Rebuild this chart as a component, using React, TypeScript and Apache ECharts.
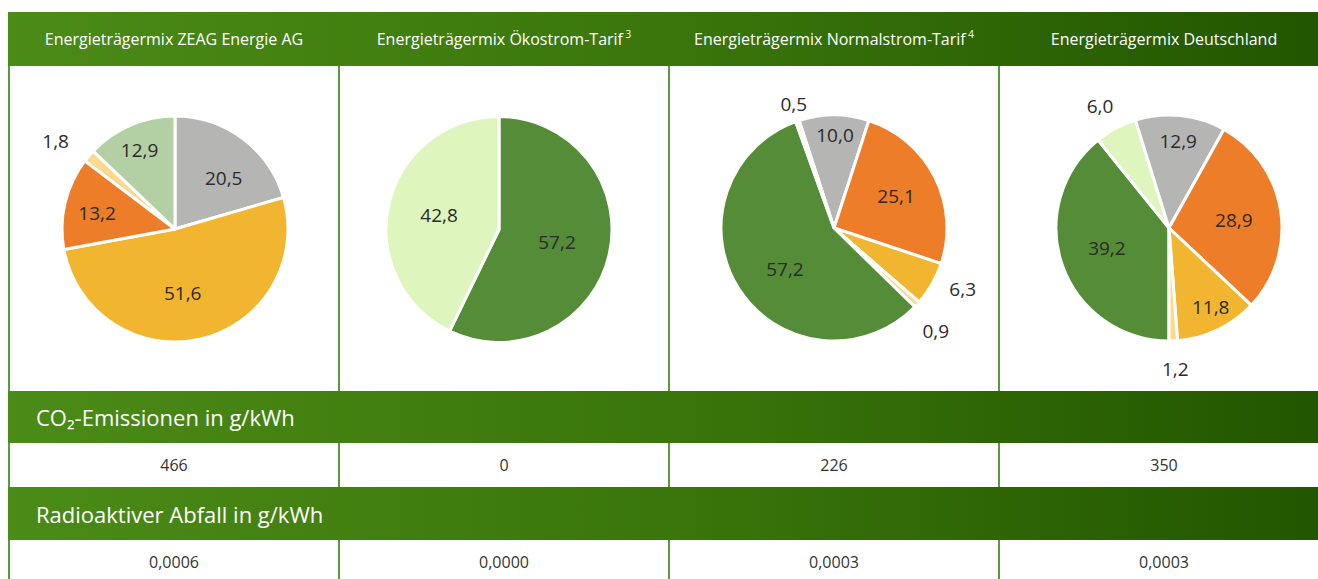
import React, { useEffect, useRef } from "react";
import * as echarts from "echarts";

// ---------- data ----------
const columnTitles = [
  "Energieträgermix ZEAG Energie AG",
  "Energieträgermix Ökostrom-Tarif",
  "Energieträgermix Normalstrom-Tarif",
  "Energieträgermix Deutschland",
];
const titleNotes = ["", "3", "4", ""];

const zeagNames = ["Kernkraft", "Erdgas", "Kohle", "Sonstige fossile Energieträger", "Erneuerbare Energien"];
const zeagValues = [20.5, 51.6, 13.2, 1.8, 12.9];

const oekoNames = ["Erneuerbare Energien, finanziert aus der EEG-Umlage", "Sonstige erneuerbare Energien"];
const oekoValues = [57.2, 42.8];

const normalNames = [
  "Kernkraft",
  "Kohle",
  "Erdgas",
  "Sonstige fossile Energieträger",
  "Erneuerbare Energien, finanziert aus der EEG-Umlage",
  "Sonstige erneuerbare Energien",
];
const normalValues = [10.0, 25.1, 6.3, 0.9, 57.2, 0.5];

const deNames = [
  "Erneuerbare Energien, finanziert aus der EEG-Umlage",
  "Sonstige erneuerbare Energien",
  "Kernkraft",
  "Kohle",
  "Erdgas",
  "Sonstige fossile Energieträger",
];
const deValues = [39.2, 6.0, 12.9, 28.9, 11.8, 1.2];

const co2Label = "CO₂-Emissionen in g/kWh";
const co2Values = ["466", "0", "226", "350"];
const wasteLabel = "Radioaktiver Abfall in g/kWh";
const wasteValues = ["0,0006", "0,0000", "0,0003", "0,0003"];

// ---------- styles ----------
const colorByName: Record<string, string> = {
  "Kernkraft": "#b5b6b4",
  "Erdgas": "#f2b52f",
  "Kohle": "#ed7d29",
  "Sonstige fossile Energieträger": "#fbd98f",
  "Erneuerbare Energien": "#b3d0a4",
  "Erneuerbare Energien, finanziert aus der EEG-Umlage": "#558c37",
  "Sonstige erneuerbare Energien": "#def5bd",
};

const FONT = "'Open Sans', 'Noto Sans', sans-serif";
const colLefts = [9, 339, 669, 999];
const colWidth = 330;
const pieCenters = [
  [175, 229],
  [499, 229.5],
  [834, 228],
  [1169, 228],
];
const pieRadius = 113;
const pieStartAngles = [90, 90, 108, -90];
const zeagLabelOffsets = [[13, -3], [-6, 6], [-20, -2], [-74, -50], [-12, -24]];
const oekoLabelOffsets = [[0, -1], [-2, -1]];
const normalLabelOffsets = [[1, -34], [9, -5], [77, 32], [58, 63], [1, 9], [-21, -68]];
const deLabelOffsets = [[-6, 0], [-41, -70], [3, -28], [6, 1], [16, 25], [4, 82]];

const fmt = (v: number) => v.toFixed(1).replace(".", ",");

function pieSeries(
  idx: number,
  names: string[],
  values: number[],
  offsets: number[][]
) {
  return {
    type: "pie",
    center: pieCenters[idx],
    radius: [0, pieRadius],
    startAngle: pieStartAngles[idx],
    clockwise: true,
    silent: true,
    avoidLabelOverlap: false,
    itemStyle: { borderColor: "#ffffff", borderWidth: 3 },
    label: {
      show: true,
      position: "inside",
      fontFamily: FONT,
      fontSize: 19,
      color: "#2b2b2b",
      formatter: (p: any) => fmt(p.value),
    },
    labelLine: { show: false },
    emphasis: { disabled: true },
    data: names.map((n, i) => ({
      name: n,
      value: values[i],
      itemStyle: { color: colorByName[n] },
      label: { offset: offsets[i] },
    })),
  };
}

function bandGradient() {
  return new echarts.graphic.LinearGradient(0, 0, 1, 0, [
    { offset: 0, color: "#4b8b17" },
    { offset: 0.5, color: "#3a760b" },
    { offset: 1, color: "#225600" },
  ]);
}

export default function App() {
  const ref = useRef<HTMLDivElement>(null);

  useEffect(() => {
    document.body.style.margin = "0";
    if (!ref.current) return;
    const chart = echarts.init(ref.current, undefined, { renderer: "svg" });

    const graphics: any[] = [];
    // vertical column lines
    colLefts.forEach((x) => {
      graphics.push({
        type: "line",
        z: 1,
        shape: { x1: x, y1: 66, x2: x, y2: 579 },
        style: { stroke: "#5b9a3c", lineWidth: 2 },
        silent: true,
      });
    });
    // green bands
    const bands = [
      [12, 54],
      [391, 52],
      [487, 53],
    ];
    bands.forEach(([y, h]) => {
      graphics.push({
        type: "rect",
        z: 2,
        shape: { x: 8, y, width: 1310, height: h },
        style: { fill: bandGradient() },
        silent: true,
      });
    });
    // header titles
    columnTitles.forEach((t, i) => {
      const note = titleNotes[i];
      graphics.push({
        type: "text",
        z: 3,
        x: colLefts[i] + colWidth / 2,
        y: 39,
        silent: true,
        style: {
          text: note ? `{t|${t}}{s| ${note}}` : `{t|${t}}`,
          align: "center",
          verticalAlign: "middle",
          rich: {
            t: { fontFamily: FONT, fontSize: 16, fill: "#ffffff", lineHeight: 20 },
            s: { fontFamily: FONT, fontSize: 10, fill: "#ffffff", verticalAlign: "top", lineHeight: 11 },
          },
        },
      });
    });
    // band labels
    [
      [co2Label, 417],
      [wasteLabel, 514],
    ].forEach(([t, y]) => {
      graphics.push({
        type: "text",
        z: 3,
        x: 36,
        y: y as number,
        silent: true,
        style: {
          text: t as string,
          fontFamily: FONT,
          fontSize: 22,
          fill: "#ffffff",
          align: "left",
          verticalAlign: "middle",
        },
      });
    });
    // row values
    [
      [co2Values, 465],
      [wasteValues, 562],
    ].forEach(([vals, y]) => {
      (vals as string[]).forEach((v, i) => {
        graphics.push({
          type: "text",
          z: 3,
          x: colLefts[i] + colWidth / 2,
          y: y as number,
          silent: true,
          style: {
            text: v,
            fontFamily: FONT,
            fontSize: 16,
            fill: "#333333",
            align: "center",
            verticalAlign: "middle",
          },
        });
      });
    });

    chart.setOption({
      animation: false,
      backgroundColor: "#ffffff",
      graphic: { elements: graphics },
      series: [
        pieSeries(0, zeagNames, zeagValues, zeagLabelOffsets),
        pieSeries(1, oekoNames, oekoValues, oekoLabelOffsets),
        pieSeries(2, normalNames, normalValues, normalLabelOffsets),
        pieSeries(3, deNames, deValues, deLabelOffsets),
      ],
    });

    return () => chart.dispose();
  }, []);

  return <div ref={ref} style={{ width: 1318, height: 579 }} />;
}
